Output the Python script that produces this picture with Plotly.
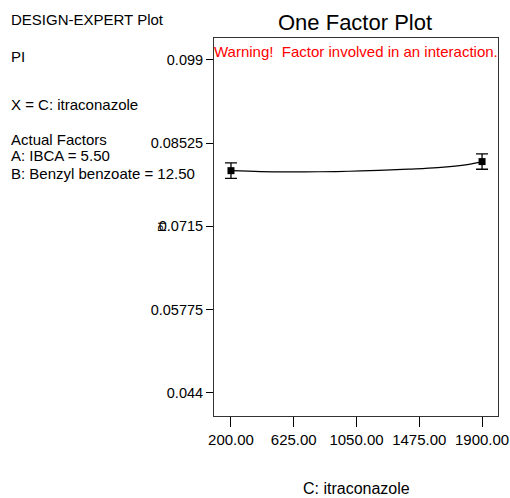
import plotly.graph_objects as go

# Data
design_x = [200, 1900]
design_y = [0.0807, 0.0822]
design_err = [0.00127, 0.00127]

curve_x = [200, 400, 600, 800, 1000, 1200, 1400, 1600, 1800, 1900]
curve_y = [0.0807, 0.08055, 0.08050, 0.08052, 0.0806, 0.08075, 0.08095, 0.0812, 0.0817, 0.0822]

x_ticks = [200, 625, 1050, 1475, 1900]
x_tick_text = ["200.00", "625.00", "1050.00", "1475.00", "1900.00"]
y_ticks = [0.044, 0.05775, 0.0715, 0.08525, 0.099]
y_tick_text = ["0.044", "0.05775", "0.0715", "0.08525", "0.099"]

W, H = 510, 498
ML, MR, MT, MB = 214, 12, 38, 82
PW, PH = W - ML - MR, H - MT - MB
font = "Liberation Sans, Arial, sans-serif"

fig = go.Figure()
fig.add_trace(go.Scatter(x=curve_x, y=curve_y, mode="lines",
                         line=dict(color="black", width=1.2, shape="spline"),
                         hoverinfo="skip", showlegend=False))
fig.add_trace(go.Scatter(x=design_x, y=design_y, mode="markers",
                         marker=dict(symbol="square", size=7, color="black"),
                         error_y=dict(type="data", array=design_err, color="black",
                                      thickness=1.3, width=6),
                         showlegend=False))

fig.update_layout(
    width=W, height=H,
    margin=dict(l=ML, r=MR, t=MT, b=MB, autoexpand=False),
    paper_bgcolor="white", plot_bgcolor="white",
    font=dict(family=font, size=15, color="black"),
    xaxis=dict(range=[85, 2008], tickvals=x_ticks, ticktext=x_tick_text,
               ticks="outside", ticklen=10, tickcolor="black", showgrid=False,
               zeroline=False, showline=True, linecolor="#333", linewidth=1,
               mirror=True, tickfont=dict(size=15), automargin=False),
    yaxis=dict(range=[0.0402, 0.1026], tickvals=y_ticks, ticktext=y_tick_text,
               ticks="outside", ticklen=7, tickcolor="black", showgrid=False,
               zeroline=False, showline=True, linecolor="#333", linewidth=1,
               mirror=True, tickfont=dict(size=14.5), automargin=False),
)

def note(text, x, y, size=15, color="black", xanchor="left", angle=0):
    fig.add_annotation(text=text, x=(x - ML) / PW, y=1 - (y - MT) / PH,
                       xref="paper", yref="paper",
                       xanchor=xanchor, yanchor="middle", showarrow=False,
                       textangle=angle,
                       font=dict(family=font, size=size, color=color))

note("DESIGN-EXPERT Plot", 9, 20)
note("PI", 9, 56)
note("X = C: itraconazole", 9, 105)
note("Actual Factors", 9, 139)
note("A: IBCA = 5.50", 9, 156)
note("B: Benzyl benzoate = 12.50", 9, 173)
note("One Factor Plot", 355, 22, size=22, xanchor="center")
note("Warning!  Factor involved in an interaction.", 356, 51, size=15, color="red", xanchor="center")
note("C: itraconazole", 356, 488, size=16, xanchor="center")
note("PI", 162, 227, size=11, xanchor="center", angle=-90)

fig.write_html("out.html")
